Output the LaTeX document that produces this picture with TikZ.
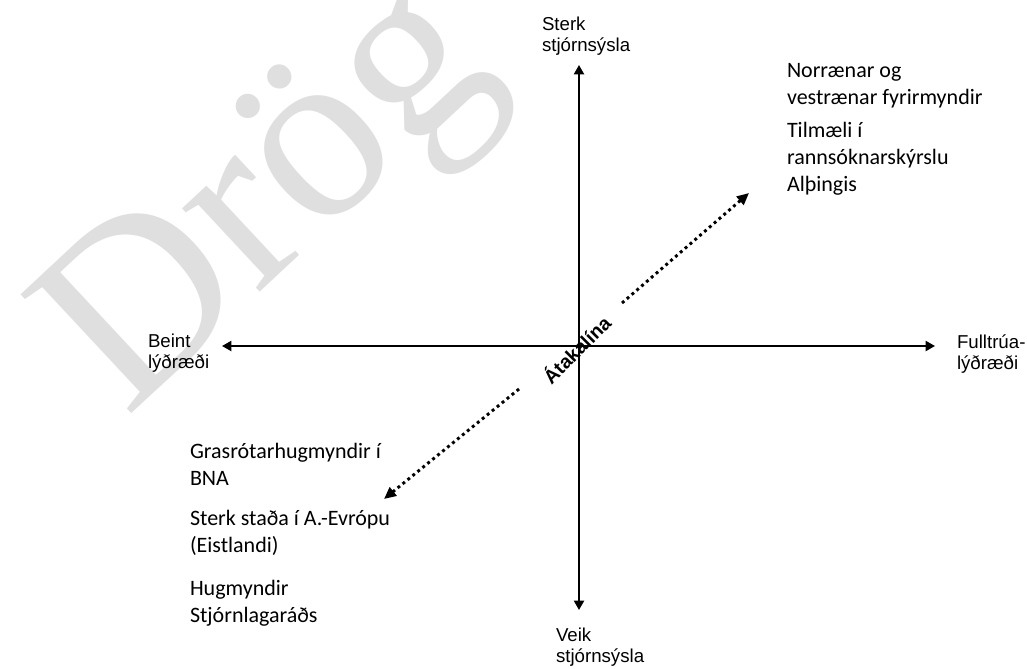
\documentclass[tikz,border=0pt]{standalone}
\usepackage{fontspec}
\setmainfont{Carlito}
\newfontfamily\arialfont{Liberation Sans}
\newfontfamily\timesfont{Liberation Serif}
\usetikzlibrary{positioning,arrows.meta}
\definecolor{wmgray}{RGB}{223,223,223}

\begin{document}
\begin{tikzpicture}[x=0.75pt,y=-0.75pt,
    every node/.style = {inner sep=0pt, outer sep=0pt},
    axis/.style = {line width=1.5pt, {Triangle[length=7pt,width=7.5pt]}-{Triangle[length=7pt,width=7.5pt]}},
    pull/.style = {line width=2.2pt, dash pattern=on 2.2pt off 2.6pt, -{Triangle[length=9pt,width=8pt]}},
    axislabel/.style = {font=\arialfont\fontsize{14}{15.75}\selectfont, align=left, anchor=base west},
    item/.style = {font=\fontsize{16.5}{20.25}\selectfont, align=left, anchor=base west},
    watermark/.style = {font=\timesfont\fontsize{186}{186}\selectfont, text=wmgray, rotate=43, anchor=base west}
    ]
    \path[use as bounding box, fill=white] (0,0) rectangle (1027,668);
    % watermark
    \node[watermark] (drog) at (126,418) {Drög};
    % axes
    \coordinate (W) at (222,346);
    \coordinate (E) at (935,346);
    \coordinate (N) at (579,65);
    \coordinate (S) at (579,610);
    \draw[axis] (W) -- (E);
    \draw[axis] (S) -- (N);
    % labels (base = last line)
    \node[axislabel] (beint) at (148,368) {Beint\\lýðræði};
    \node[axislabel] (fulltrua) at (957,369) {Fulltrúa-\\lýðræði};
    \node[axislabel] (sterk) at (542,51) {Sterk\\stjórnsýsla};
    \node[axislabel] (veik) at (556,662) {Veik\\stjórnsýsla};
    % conflict line
    \coordinate (ua) at (622,303);
    \coordinate (ub) at (749,193);
    \coordinate (la) at (519,389);
    \coordinate (lb) at (384,499);
    \draw[pull] (ua) -- (ub);
    \draw[pull] (la) -- (lb);
    \node[font=\arialfont\bfseries\fontsize{14.5}{16}\selectfont, rotate=45] (atak) at (576,349) {Átakalína};
    % examples
    \node[item] (nordic) at (787,104) {Norrænar og\\vestrænar fyrirmyndir};
    \node[item] (tilmaeli) at (787,191) {Tilmæli í\\rannsóknarskýrslu\\Alþingis};
    \node[item] (gras) at (190,485) {Grasrótarhugmyndir í\\BNA};
    \node[item] (evropa) at (190,552) {Sterk staða í A.-Evrópu\\(Eistlandi)};
    \node[item] (stjl) at (190,622) {Hugmyndir\\Stjórnlagaráðs};
\end{tikzpicture}
\end{document}
